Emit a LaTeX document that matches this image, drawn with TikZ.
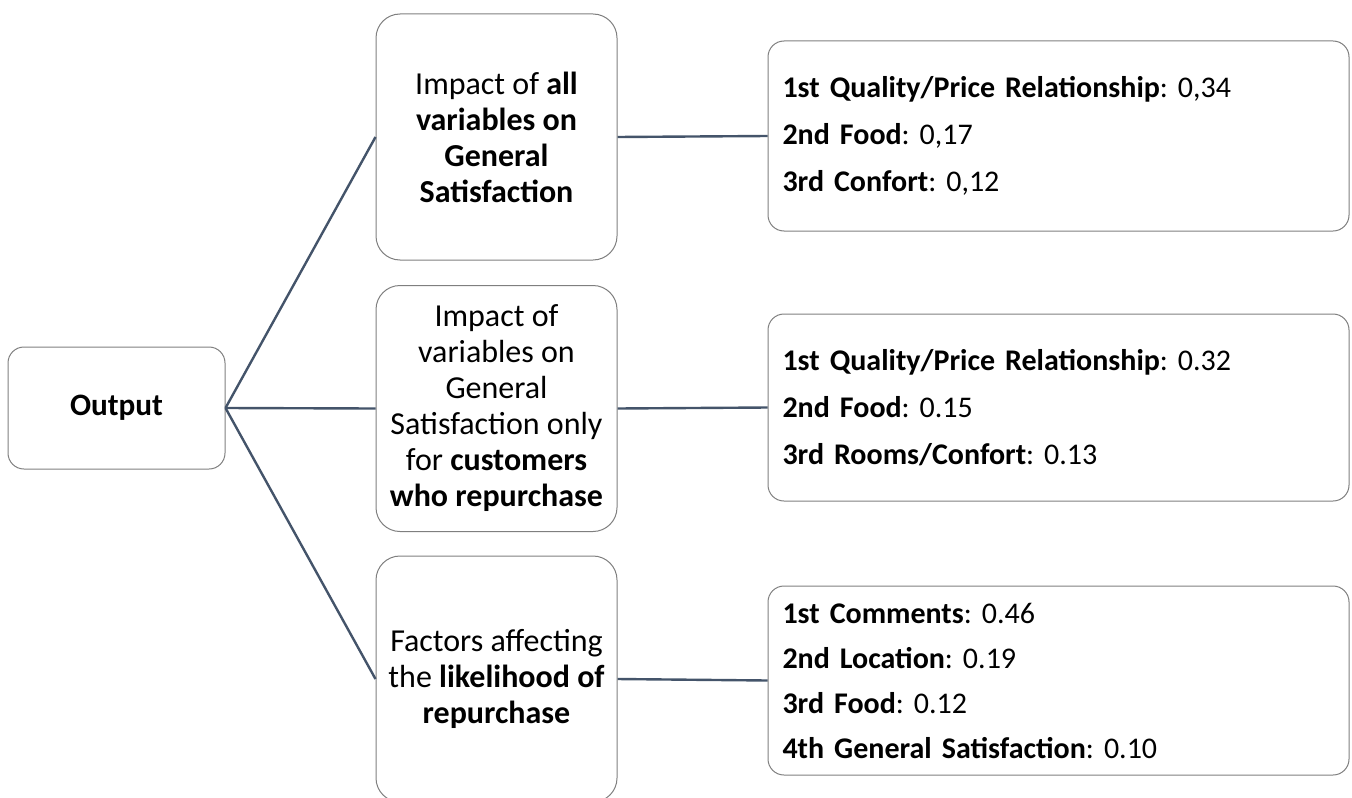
\documentclass[tikz,border=0pt]{standalone}
\usepackage{fontspec}
\setmainfont{Carlito}
\usetikzlibrary{positioning,calc}
\definecolor{slateline}{HTML}{44546A}
\definecolor{boxgray}{HTML}{7F7F7F}
\tikzstyle{outbox}=[rectangle,draw=boxgray,line width=0.5pt,rounded corners=8pt,minimum width=108.5pt,minimum height=61pt,inner sep=0pt,font=\fontsize{15.6pt}{18pt}\selectfont\bfseries]
\tikzstyle{midbox}=[rectangle,draw=boxgray,line width=0.5pt,rounded corners=12pt,minimum width=120.5pt,minimum height=123pt,align=center,inner sep=0pt,font=\fontsize{16pt}{18pt}\selectfont]
\tikzstyle{resbox}=[rectangle,draw=boxgray,line width=0.5pt,rounded corners=8pt,minimum width=290.5pt,minimum height=95pt,text width=276pt,align=left,inner sep=0pt,font=\fontsize{15pt}{23.5pt}\selectfont]
\tikzstyle{link}=[slateline,line width=1.2pt]

\begin{document}
\frenchspacing
\begin{tikzpicture}[x=0.5pt,y=-0.5pt]
	\useasboundingbox (0,0) rectangle (1352,797);
%--------------------start object code --------------------
	%Output
	\node[outbox] (output) at (116.5,408) {Output};
	
	%Middle boxes
	\node[midbox] (impAll) at (496.5,137) {Impact of \textbf{all}\\ \textbf{variables on}\\ \textbf{General}\\ \textbf{Satisfaction}};
	\node[midbox] (impRep) at (496.5,408.5) {Impact of\\ variables on\\ General\\ Satisfaction only\\ for \textbf{customers}\\ \textbf{who repurchase}};
	\node[midbox] (factRep) at (496.5,679) {Factors affecting\\ the \textbf{likelihood of}\\ \textbf{repurchase}};
	
	%Result boxes
	\node[resbox] (resAll) at (1058.5,136) {\textbf{1st Quality/Price Relationship}: 0,34\\ \textbf{2nd Food}: 0,17\\ \textbf{3rd Confort}: 0,12};
	\node[resbox,minimum height=93.5pt] (resRep) at (1058.5,407.5) {\textbf{1st Quality/Price Relationship}: 0.32\\ \textbf{2nd Food}: 0.15\\ \textbf{3rd Rooms/Confort}: 0.13};
	\node[resbox,minimum height=94.5pt,font=\fontsize{15pt}{22.5pt}\selectfont] (resFact) at (1058.5,680.5) {\textbf{1st Comments}: 0.46\\ \textbf{2nd Location}: 0.19\\ \textbf{3rd Food}: 0.12\\ \textbf{4th General Satisfaction}: 0.10};
	
	%Connectors
	\draw[link] (output.east) -- (impAll.west);
	\draw[link] (output.east) -- (impRep.west);
	\draw[link] (output.east) -- (factRep.west);
	\draw[link] (impAll.east) -- (resAll.west);
	\draw[link] (impRep.east) -- (resRep.west);
	\draw[link] (factRep.east) -- (resFact.west);
%-------------------------end object code-----------------------
\end{tikzpicture}
\end{document}
